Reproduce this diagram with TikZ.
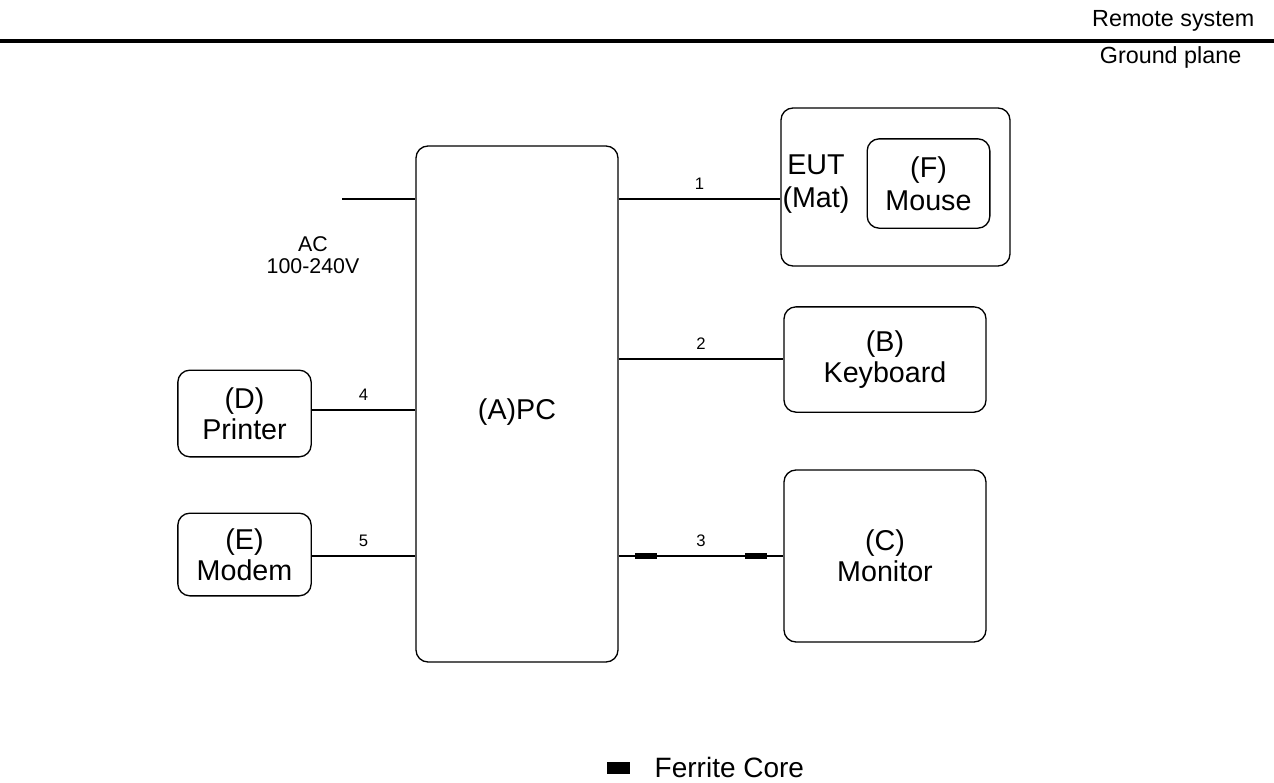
\documentclass[tikz,border=0pt]{standalone}
\usepackage{fontspec}
\setmainfont{Liberation Sans}
\usetikzlibrary{positioning}

\begin{document}
\begin{tikzpicture}[x=0.75pt,y=-0.75pt,
    box/.style={draw,line width=1pt,rounded corners=9pt,align=center,
        font=\fontsize{21.5}{23.5}\selectfont},
    word/.style={align=center,font=\fontsize{21.5}{24.5}\selectfont},
    cable/.style={line width=1pt},
    num/.style={font=\fontsize{12.5}{14}\selectfont},
    ferrite/.style={fill=black,inner sep=0pt,minimum width=16.5pt,minimum height=5pt}]

\useasboundingbox (0,0) rectangle (1274,782);

% ground plane
\draw[line width=3pt] (0,41) -- (1274,41);
\node[anchor=east,font=\fontsize{17.5}{20}\selectfont] (remote) at (1259,21) {Remote system};
\node[anchor=east,font=\fontsize{17.5}{20}\selectfont] (ground) at (1246,57) {Ground plane};

% pc
\node[box,minimum width=151.5pt,minimum height=387pt] (pc) at (517,404) {};
\node[word] (pcname) at (517,412) {(A)PC};

% devices
\node[box,minimum width=171.75pt,minimum height=118.5pt] (eut) at (895.5,187) {};
\node[word] (eutname) at (816,184) {EUT\\(Mat)};
\node[box,minimum width=92pt,minimum height=67pt,font=\fontsize{21.5}{24.5}\selectfont] (mouse) at (928.5,183.5) {(F)\\Mouse};
\node[box,minimum width=151.5pt,minimum height=79pt] (kbd) at (885,359.5) {(B)\\Keyboard};
\node[box,minimum width=151.5pt,minimum height=129pt] (monitor) at (885,556) {(C)\\Monitor};
\node[box,minimum width=100pt,minimum height=65pt] (printer) at (244.5,413.5) {(D)\\Printer};
\node[box,minimum width=100pt,minimum height=62pt] (modem) at (244.5,554.5) {(E)\\Modem};

% mains
\coordinate (ac) at (342,199);
\draw[cable] (ac) -- (pc.west |- ac);
\node[align=center,font=\fontsize{16}{17}\selectfont] (acname) at (313,255) {AC\\100-240V};

% cables
\draw[cable] (pc.east |- 0,199) -- node[num,above=3pt] (n1) {1} (eut.west |- 0,199);
\draw[cable] (pc.east |- 0,359) -- node[num,above=3pt] (n2) {2} (kbd.west |- 0,359);
\draw[cable] (pc.east |- monitor.west) -- node[num,above=3pt] (n3) {3} (monitor.west);
\draw[cable] (printer.east |- 0,410) -- node[num,above=3pt] (n4) {4} (pc.west |- 0,410);
\draw[cable] (modem.east |- 0,556) -- node[num,above=3pt] (n5) {5} (pc.west |- 0,556);

\foreach \x in {646,756}
    \node[ferrite] at (\x,556) {};

% legend
\node[ferrite,minimum width=17.5pt,minimum height=8.5pt] (fc) at (618.5,768) {};
\node[anchor=west,font=\fontsize{21}{24}\selectfont] (fcname) at (650,767) {Ferrite Core};
\end{tikzpicture}
\end{document}
